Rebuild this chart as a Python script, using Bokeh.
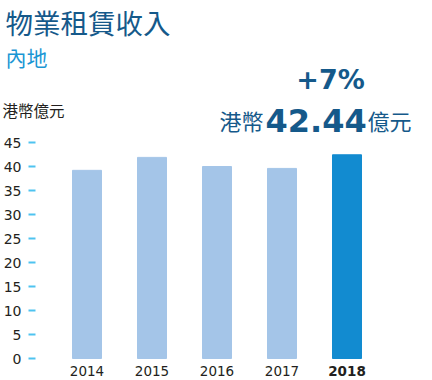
from bokeh.plotting import figure
from bokeh.models import Range1d, FixedTicker, Label, ColumnDataSource, LinearAxis
from bokeh.core.properties import value
from bokeh.embed import file_html
from bokeh.resources import INLINE

# ---- data ----
years = ["2014", "2015", "2016", "2017", "2018"]
revenue = [39.2, 41.9, 40.0, 39.6, 42.44]
y_ticks = [0, 5, 10, 15, 20, 25, 30, 35, 40, 45]
title_text = "物業租賃收入"
subtitle_text = "內地"
unit_text = "港幣億元"
growth_text = "+7%"
headline_prefix = "港幣"
headline_value = "42.44"
headline_suffix = "億元"

# ---- layout helpers (pixel layout; frame covers the whole canvas) ----
W, H = 430, 378
PX_X = 65.0         # px per category
C0 = 86.5           # px of first category centre
Y0 = 358.0          # px of value 0
PX_Y = 4.8          # px per unit
AXIS_PX = 35        # px where the y axis sits

x_start = -C0 / PX_X
x_end = (W - C0) / PX_X
y_start = -(H - Y0) / PX_Y
y_end = Y0 / PX_Y


def dx(px):
    return x_start + px / PX_X


def dy(py):
    return (Y0 - py) / PX_Y


p = figure(width=W, height=H, output_backend="svg", toolbar_location=None,
           x_range=Range1d(x_start, x_end), y_range=Range1d(y_start, y_end),
           x_axis_location=None, y_axis_location=None,
           min_border=0, background_fill_color="white",
           border_fill_color="white", outline_line_color=None)
p.grid.visible = False

ya = LinearAxis(fixed_location=dx(AXIS_PX), ticker=FixedTicker(ticks=y_ticks))
ya.axis_line_color = None
ya.major_tick_line_color = "#4ec3f0"
ya.major_tick_line_width = 2
ya.major_tick_out = 7
ya.major_tick_in = 0
ya.minor_tick_line_color = None
ya.major_label_standoff = 7
ya.major_label_text_font = "DejaVu Sans"
ya.major_label_text_font_size = "14px"
ya.major_label_text_color = "#231f20"
p.add_layout(ya, "left")

xs = list(range(len(years)))
colors = ["#128bd0" if i == len(years) - 1 else "#a4c5e8" for i in xs]
src = ColumnDataSource(dict(x=xs, top=revenue, color=colors))
p.vbar(x="x", top="top", bottom=0, width=29 / PX_X, color="color", source=src)

normal = ColumnDataSource(dict(x=xs[:-1], y=[dy(370)] * (len(xs) - 1), t=years[:-1]))
bold = ColumnDataSource(dict(x=xs[-1:], y=[dy(370)], t=years[-1:]))
p.text(x="x", y="y", text="t", source=normal, text_font=value("DejaVu Sans"),
       text_font_size="13.5px", text_color="#231f20", text_align="center",
       text_baseline="alphabetic")
p.text(x="x", y="y", text="t", source=bold, text_font=value("DejaVu Sans"),
       text_font_style="bold", text_font_size="13.5px", text_color="#231f20",
       text_align="center", text_baseline="alphabetic")

CJK = "Noto Sans CJK TC"
DARK = "#15598a"

p.add_layout(Label(x=dx(5), y=dy(21), text=title_text, text_font=CJK,
                   text_font_size="27.5px", text_color=DARK, text_align="left",
                   text_baseline="alphabetic"))
p.add_layout(Label(x=dx(5), y=dy(56), text=subtitle_text, text_font=CJK,
                   text_font_size="21px", text_color="#1a96d4", text_align="left",
                   text_baseline="alphabetic"))
p.add_layout(Label(x=dx(2), y=dy(109), text=unit_text, text_font=CJK,
                   text_font_size="15.5px", text_color="#231f20", text_align="left",
                   text_baseline="alphabetic"))
p.add_layout(Label(x=dx(330), y=dy(79), text=growth_text, text_font="DejaVu Sans",
                   text_font_style="bold", text_font_size="27px", text_color=DARK,
                   text_align="center", text_baseline="alphabetic"))
p.add_layout(Label(x=dx(265), y=dy(120), text=headline_value, text_font="DejaVu Sans",
                   text_font_style="bold", text_font_size="32px", text_color=DARK,
                   text_align="left", text_baseline="alphabetic"))
p.add_layout(Label(x=dx(263), y=dy(119), text=headline_prefix, text_font=CJK,
                   text_font_size="22px", text_color=DARK, text_align="right",
                   text_baseline="alphabetic"))
p.add_layout(Label(x=dx(367), y=dy(119), text=headline_suffix, text_font=CJK,
                   text_font_size="22px", text_color=DARK, text_align="left",
                   text_baseline="alphabetic"))

open("out.html", "w").write(file_html(p, INLINE))
